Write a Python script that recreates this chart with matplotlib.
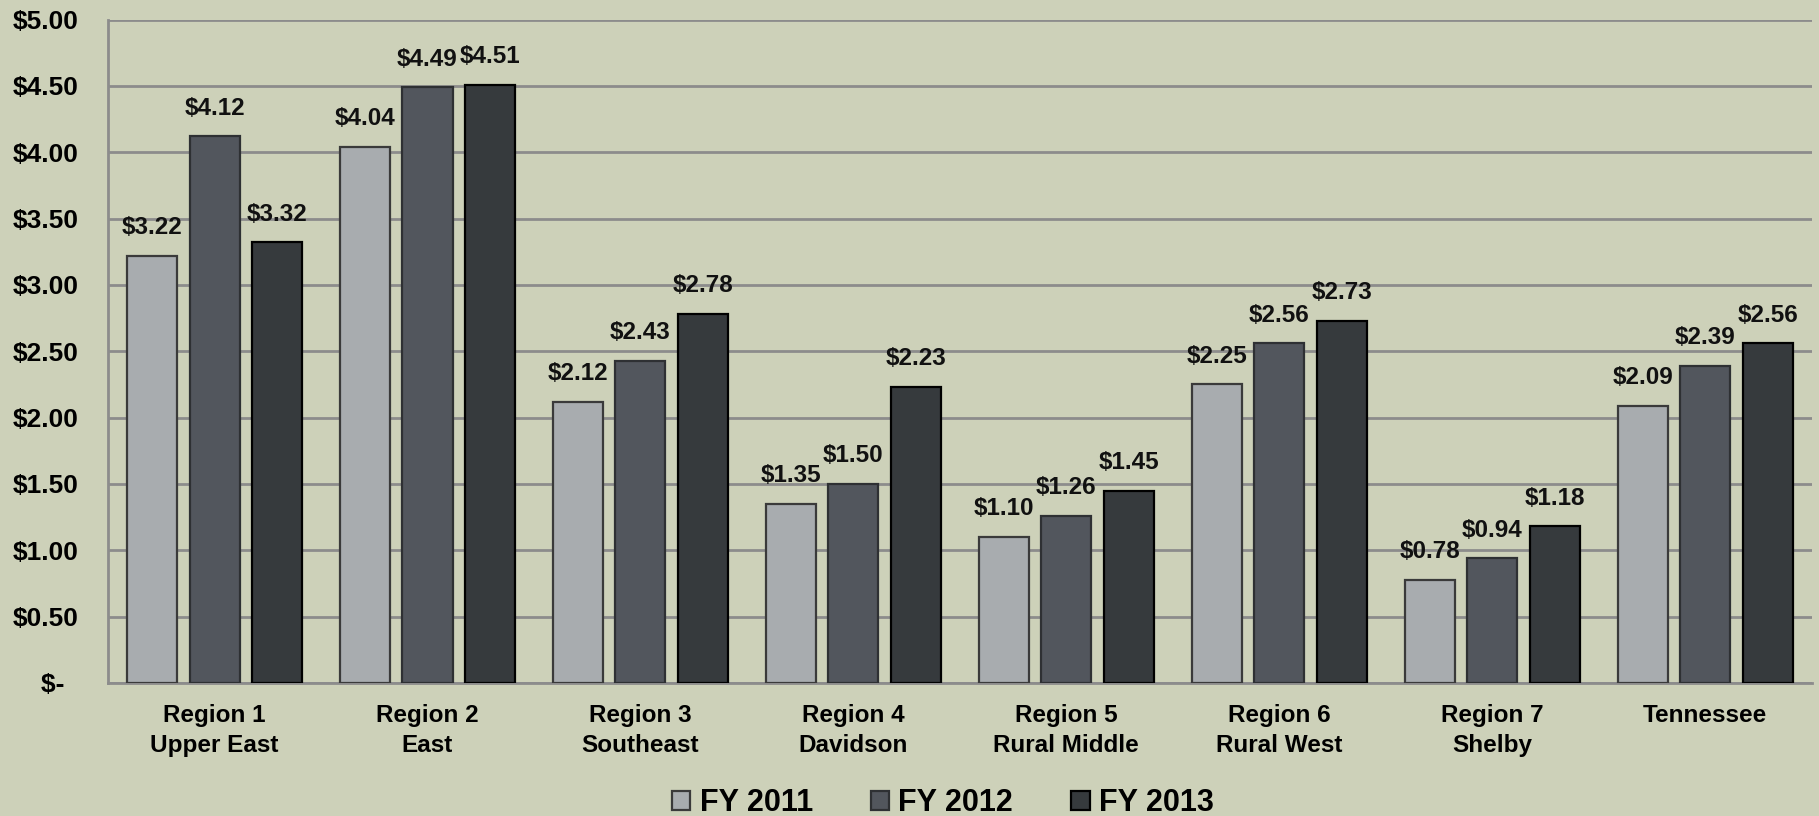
import numpy as np
import matplotlib.pyplot as plt
from matplotlib.ticker import FuncFormatter

# Data
regions = ["Region 1\nUpper East", "Region 2\nEast", "Region 3\nSoutheast",
           "Region 4\nDavidson", "Region 5\nRural Middle", "Region 6\nRural West",
           "Region 7\nShelby", "Tennessee"]
fy2011 = [3.22, 4.04, 2.12, 1.35, 1.10, 2.25, 0.78, 2.09]
fy2012 = [4.12, 4.49, 2.43, 1.50, 1.26, 2.56, 0.94, 2.39]
fy2013 = [3.32, 4.51, 2.78, 2.23, 1.45, 2.73, 1.18, 2.56]
series_names = ["FY 2011", "FY 2012", "FY 2013"]

bg = "#CDD1B9"
fills = ["#A8ACAF", "#52565D", "#363A3D"]
edges = ["#3A3A3A", "#2E3033", "#000000"]

plt.rcParams['font.family'] = ['Liberation Sans', 'DejaVu Sans']

fig = plt.figure(figsize=(18.19, 8.16), dpi=100, facecolor=bg)
ax = fig.add_axes([0.0594, 0.163, 0.9366, 0.813])
ax.set_facecolor(bg)

x = np.arange(len(regions))
w = 0.235
step = 0.293
for i, (vals, name) in enumerate(zip([fy2011, fy2012, fy2013], series_names)):
    bars = ax.bar(x + (i - 1) * step, vals, w, color=fills[i], edgecolor=edges[i],
                  linewidth=1.6, label=name, zorder=3)
    for b, v in zip(bars, vals):
        ax.annotate("${:.2f}".format(v), (b.get_x() + b.get_width() / 2, v),
                    xytext=(0, 12), textcoords="offset points",
                    ha="center", va="bottom", fontsize=17.5, fontweight="bold",
                    color="#111111")

ax.set_xlim(-0.5, len(regions) - 0.5)
ax.set_ylim(0, 5)
ax.set_yticks(np.arange(0, 5.01, 0.5))
ax.yaxis.set_major_formatter(FuncFormatter(lambda v, p: "$-  " if v == 0 else "${:.2f}".format(v)))
ax.grid(axis="y", color="#8C8C8C", linewidth=2, zorder=0)
ax.set_xticks(x)
ax.set_xticklabels(regions, fontsize=17.5, fontweight="bold", linespacing=1.4)
ax.tick_params(axis="y", length=0, pad=21, labelsize=19)
ax.tick_params(axis="x", length=0, pad=15)
for lab in ax.get_yticklabels():
    lab.set_fontweight("bold")

for s in ["top", "right"]:
    ax.spines[s].set_visible(False)
ax.spines["left"].set_color("#8C8C8C")
ax.spines["left"].set_linewidth(2)
ax.spines["bottom"].set_color("#8C8C8C")
ax.spines["bottom"].set_linewidth(2)

leg = ax.legend(loc="lower center", bbox_to_anchor=(0.49, -0.245), ncol=3, frameon=False,
                prop={"weight": "bold", "size": 22},
                handlelength=0.6, handleheight=0.6, handletextpad=0.3, columnspacing=1.9)

fig.savefig("out.png", dpi=100, facecolor=bg)
